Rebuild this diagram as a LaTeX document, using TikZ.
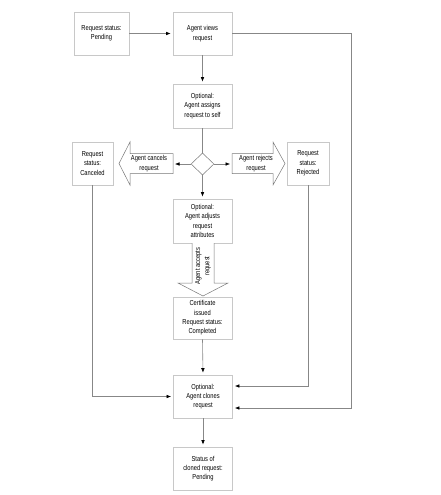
\documentclass[tikz,border=0pt]{standalone}
\usepackage{fontspec}
\setmainfont{Liberation Sans}[FakeStretch=0.8]
\usetikzlibrary{arrows.meta,shapes.geometric}
\definecolor{boxline}{RGB}{200,200,200}
\definecolor{connline}{RGB}{135,135,135}
\definecolor{bigarrow}{RGB}{120,120,120}
\begin{document}
\begin{tikzpicture}[x=1pt,y=-1pt,
  every node/.style={font=\fontsize{7.2}{9.3}\selectfont},
  box/.style={draw=boxline,line width=0.7pt,fill=white,align=center,inner sep=0pt},
  conn/.style={draw=connline,line width=0.6pt},
  arr/.style={conn,-{Latex[length=4.5pt,width=3.6pt,color=black]},shorten >=2pt},
  hollow/.style={draw=bigarrow,line width=0.5pt,fill=white,line join=miter},
  lbl/.style={align=center,inner sep=0pt}]
\useasboundingbox (0,0) rectangle (440,495);
% boxes
\node[box,minimum width=55pt,minimum height=43pt] (pend) at (101.5,33.5) {Request status:\\Pending};
\node[box,minimum width=59pt,minimum height=43pt] (views) at (202.5,33.5) {Agent views\\request};
\node[box,minimum width=59pt,minimum height=44pt] (assign) at (202.5,106) {Optional:\\Agent assigns\\request to self};
\node[draw=bigarrow,line width=0.5pt,fill=white,diamond,minimum width=23pt,minimum height=22pt,inner sep=0pt] (dia) at (202.5,164) {};
\node[box,minimum width=41pt,minimum height=43pt] (canc) at (92.5,163.5) {Request\\status:\\Canceled};
\node[box,minimum width=42pt,minimum height=43pt] (rej) at (308,163.5) {Request\\status:\\Rejected};
\node[box,minimum width=59pt,minimum height=44pt] (adj) at (202.5,221) {Optional:\\Agent adjusts\\request\\attributes};
\node[box,minimum width=59pt,minimum height=42pt] (cert) at (202.5,318) {Certificate\\issued\\Request status:\\Completed};
\node[box,minimum width=59pt,minimum height=43pt] (clone) at (203,396.5) {Optional:\\Agent clones\\request};
\node[box,minimum width=59pt,minimum height=43pt] (stat) at (203,468.5) {Status of\\cloned request:\\Pending};
% hollow arrows
\draw[hollow] (173,153.5) -- (130,153.5) -- (130,142) -- (119,163.5) -- (130,185) -- (130,173.5) -- (173,173.5) -- cycle;
\coordinate (cancT) at (173,164);
\node[lbl] (cancL) at (149,163.5) {Agent cancels\\request};
\draw[hollow] (232,153.5) -- (273,153.5) -- (273,142) -- (285,163.5) -- (273,185) -- (273,173.5) -- (232,173.5) -- cycle;
\coordinate (rejT) at (232,164);
\node[lbl] (rejL) at (256,163.5) {Agent rejects\\request};
\draw[hollow] (192,243) -- (192,283) -- (178,283) -- (203,296) -- (228,283) -- (214,283) -- (214,243);
\node[lbl,rotate=90] (accL) at (203,266) {Agent accepts\\request};
% connectors
\coordinate (vr) at (351,408);
\coordinate (yR) at (0,386);
\draw[arr] (pend.east) -- (views.west);
\draw[arr] (views.south) -- (assign.north);
\draw[conn] (assign.south) -- (dia.north);
\draw[arr] (dia.west) -- (cancT);
\draw[arr] (dia.east) -- (rejT);
\draw[arr] (dia.south) -- (adj.north);
\draw[arr] (cert.south) -- (clone.north);
\draw[arr] (clone.south) -- (stat.north);
\draw[arr] (views.east) -| (vr) -- (vr -| clone.east);
\draw[arr] (rej.south) |- (clone.east |- yR);
\draw[arr] (canc.south) |- (clone.west);
\end{tikzpicture}
\end{document}
